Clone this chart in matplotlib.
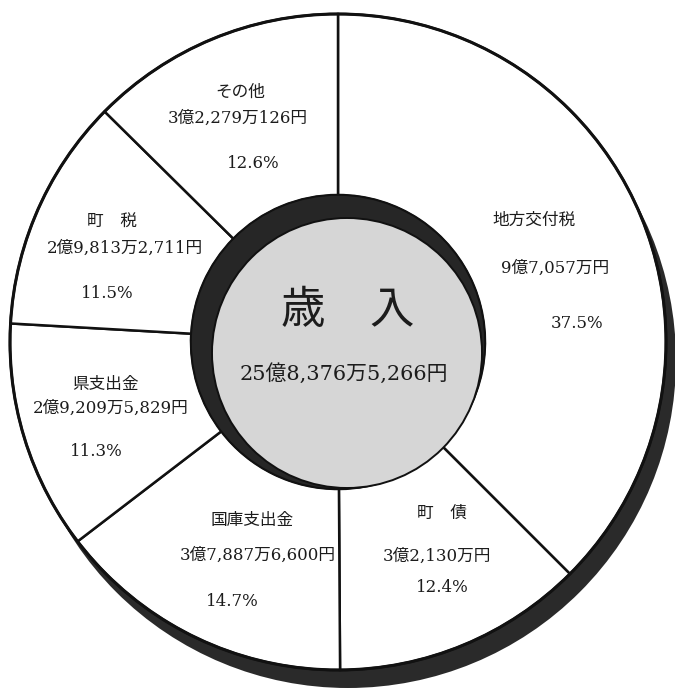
import matplotlib
matplotlib.use("Agg")
import matplotlib.pyplot as plt
from matplotlib.patches import Circle

# ---- data ----
categories = ["地方交付税", "町　債", "国庫支出金", "県支出金", "町　税", "その他"]
amounts = ["9億7,057万円", "3億2,130万円", "3億7,887万6,600円",
           "2億9,209万5,829円", "2億9,813万2,711円", "3億2,279万126円"]
shares = [37.5, 12.4, 14.7, 11.3, 11.5, 12.6]
share_labels = ["37.5%", "12.4%", "14.7%", "11.3%", "11.5%", "12.6%"]
center_title = "歳　入"
center_total = "25億8,376万5,266円"

# ---- layout (pixel positions: name, amount, percentage) ----
W, H = 675, 692
label_layout = [
    [(534, 220), (555, 268), (577, 323)],
    [(442, 513), (437, 556), (442, 588)],
    [(252, 520), (258, 555), (232, 602)],
    [(105, 385), (111, 408), (96, 452)],
    [(112, 222), (125, 248), (107, 293)],
    [(240, 92), (238, 118), (253, 163)],
]

FONT = ["DejaVu Serif", "Noto Sans CJK JP"]
plt.rcParams["font.family"] = FONT

fig = plt.figure(figsize=(W / 100, H / 100), dpi=100)
ax = fig.add_axes([0, 0, 1, 1])

cx, cy = 338, H - 342
R = 328
r_inner = 147

# shadow of the ring
ax.add_patch(Circle((cx + 10, cy - 18), R, facecolor="#2a2a2a",
                    edgecolor="none", zorder=1))

ax.pie(shares, startangle=90, counterclock=False, center=(cx, cy), radius=R,
       colors=["white"] * len(shares),
       wedgeprops=dict(width=R - r_inner, edgecolor="#111111", linewidth=1.8,
                       zorder=2))
ax.add_patch(Circle((cx, cy), R, facecolor="none", edgecolor="#111111",
                    linewidth=2.2, zorder=3))

# inner disc: dark shadow + grey face
ax.add_patch(Circle((cx, cy), r_inner, facecolor="#262626",
                    edgecolor="#111111", linewidth=1.2, zorder=4))
ax.add_patch(Circle((347, H - 353), 135, facecolor="#d6d6d6",
                    edgecolor="#111111", linewidth=1.4, zorder=5))

ax.set_aspect("auto")
ax.set_xlim(0, W)
ax.set_ylim(0, H)
ax.axis("off")

tc = "#1c1c1c"
for i in range(len(categories)):
    (nx, ny), (axx, ay), (px, py) = label_layout[i]
    ax.text(nx, H - ny, categories[i], ha="center", va="center",
            fontsize=12, color=tc, zorder=6)
    ax.text(axx, H - ay, amounts[i], ha="center", va="center",
            fontsize=12, color=tc, zorder=6)
    ax.text(px, H - py, share_labels[i], ha="center", va="center",
            fontsize=12, color=tc, zorder=6)

ax.text(348, H - 310, center_title, ha="center", va="center",
        fontsize=32, color=tc, zorder=6)
ax.text(344, H - 373, center_total, ha="center", va="center",
        fontsize=15, color=tc, zorder=6)

fig.savefig("out.png", dpi=100, facecolor="white")
